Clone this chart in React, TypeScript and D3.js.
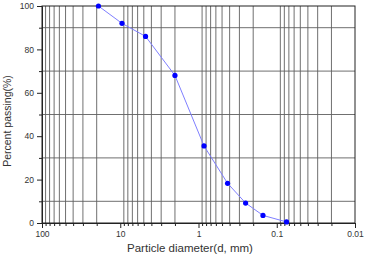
import { useEffect, useRef } from "react";
import { select, scaleLog, scaleLinear, axisBottom, axisLeft, line, range } from "d3";

// sieve sizes (mm) and percent passing
const diameters = [19, 9.5, 4.75, 2, 0.85, 0.425, 0.25, 0.15, 0.075];
const passing = [100, 92, 86, 68, 35.5, 18.3, 9.2, 3.5, 0.5];

const xMajorTicks = [100, 10, 1, 0.1, 0.01];
const xTickLabels = ["100", "10", "1", "0.1", "0.01"];
const yMajorTicks = [0, 20, 40, 60, 80, 100];
const yMinorTicks = [10, 30, 50, 70, 90];

export default function App() {
  const svgRef = useRef<SVGSVGElement>(null);

  useEffect(() => {
    const Width = 368;
    const Height = 256;
    const Margin = { top: 6, right: 13, bottom: 33, left: 42 };

    const svg = select(svgRef.current);
    svg.selectAll("*").remove();

    const xScale = scaleLog()
      .domain([100, 0.01])
      .range([Margin.left, Width - Margin.right]);
    const yScale = scaleLinear()
      .domain([0, 100])
      .range([Height - Margin.bottom, Margin.top]);

    // minor values 2..9 in each decade
    const xMinor: number[] = [];
    for (const dec of [10, 1, 0.1, 0.01]) {
      for (const k of range(2, 10)) xMinor.push(dec * k);
    }

    // grid
    const grid = svg.append("g").attr("stroke", "#606060").attr("stroke-width", 0.9);
    grid
      .selectAll(".vgrid")
      .data(xMinor)
      .join("line")
      .attr("x1", (d) => xScale(d))
      .attr("x2", (d) => xScale(d))
      .attr("y1", yScale(0))
      .attr("y2", yScale(100));
    grid
      .selectAll(".hgrid")
      .data(yMinorTicks)
      .join("line")
      .attr("x1", xScale(100))
      .attr("x2", xScale(0.01))
      .attr("y1", (d) => yScale(d))
      .attr("y2", (d) => yScale(d));

    // frame
    svg
      .append("rect")
      .attr("x", xScale(100))
      .attr("y", yScale(100))
      .attr("width", xScale(0.01) - xScale(100))
      .attr("height", yScale(0) - yScale(100))
      .attr("fill", "none")
      .attr("stroke", "#222")
      .attr("stroke-width", 1);

    const font = "Liberation Sans, Arial, sans-serif";

    // x axis
    const xAxis = svg
      .append("g")
      .attr("transform", "translate(0," + yScale(0) + ")")
      .call(
        axisBottom(xScale)
          .tickValues(xMajorTicks)
          .tickFormat((d, i) => xTickLabels[i])
          .tickSize(5)
          .tickPadding(3)
      );
    xAxis.selectAll("text").attr("font-size", 8.5).attr("font-family", font).attr("fill", "#333");
    xAxis.selectAll("line, path").attr("stroke", "#222");

    svg
      .append("g")
      .attr("transform", "translate(0," + yScale(0) + ")")
      .call(axisBottom(xScale).tickValues(xMinor).tickFormat(() => "").tickSize(3))
      .call((g) => g.select(".domain").remove())
      .selectAll("line")
      .attr("stroke", "#222");

    // y axis
    const yAxis = svg
      .append("g")
      .attr("transform", "translate(" + xScale(100) + ",0)")
      .call(axisLeft(yScale).tickValues(yMajorTicks).tickSize(5).tickPadding(3));
    yAxis.selectAll("text").attr("font-size", 8.5).attr("font-family", font).attr("fill", "#333");
    yAxis.selectAll("line, path").attr("stroke", "#222");

    svg
      .append("g")
      .attr("transform", "translate(" + xScale(100) + ",0)")
      .call(axisLeft(yScale).tickValues(yMinorTicks).tickFormat(() => "").tickSize(3))
      .call((g) => g.select(".domain").remove())
      .selectAll("line")
      .attr("stroke", "#222");

    // axis labels
    svg
      .append("text")
      .attr("x", 190)
      .attr("y", 252)
      .attr("text-anchor", "middle")
      .attr("font-family", font)
      .attr("font-size", 11.5)
      .attr("fill", "#333")
      .text("Particle diameter(d, mm)");

    svg
      .append("text")
      .attr("transform", "translate(11," + 121 + ") rotate(-90)")
      .attr("text-anchor", "middle")
      .attr("font-family", font)
      .attr("font-size", 10.5)
      .attr("fill", "#333")
      .text("Percent passing(%)");

    // curve
    const pts = diameters.map((d, i) => [d, passing[i]] as [number, number]);
    const lineGen = line<[number, number]>()
      .x((p) => xScale(p[0]))
      .y((p) => yScale(p[1]));

    svg
      .append("path")
      .attr("d", lineGen(pts))
      .attr("fill", "none")
      .attr("stroke", "#7f7fff")
      .attr("stroke-width", 1);

    svg
      .selectAll(".pt")
      .data(pts)
      .join("circle")
      .attr("cx", (p) => xScale(p[0]))
      .attr("cy", (p) => yScale(p[1]))
      .attr("r", 2.6)
      .attr("fill", "#0000ff");
  }, []);

  return (
    <svg
      ref={svgRef}
      width={368}
      height={256}
      style={{ position: "absolute", left: 0, top: 0, background: "#fff" }}
    ></svg>
  );
}
